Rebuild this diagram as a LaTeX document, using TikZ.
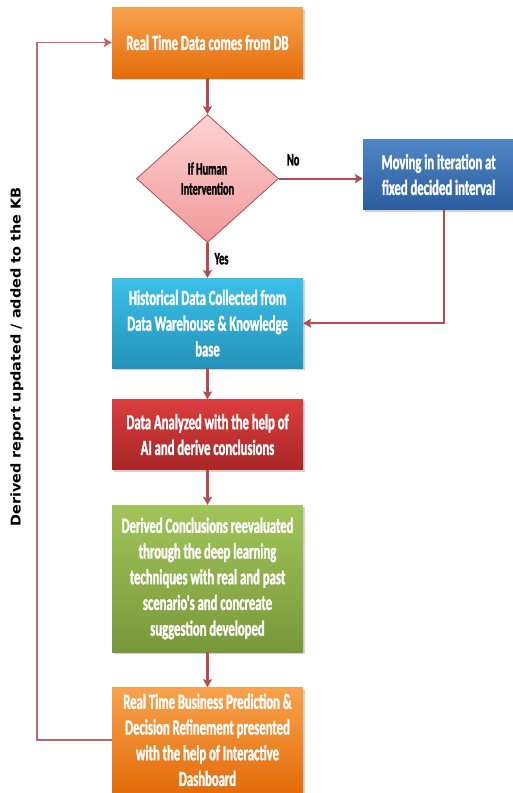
\documentclass[tikz,border=0pt]{standalone}
\usepackage{fontspec}
\newfontfamily\boxfont[FakeStretch=0.59, BoldFeatures={FakeBold=1.4}]{Carlito}
\newfontfamily\sidefont[FakeStretch=1.07]{DejaVu Sans}
\usetikzlibrary{shapes.geometric, arrows.meta, positioning, shadows}

\definecolor{flowred}{HTML}{B54A4F}
\definecolor{orangetop}{HTML}{F8A24C}
\definecolor{orangebot}{HTML}{E46C0A}
\definecolor{bluetop}{HTML}{4F86C6}
\definecolor{bluebot}{HTML}{2B5C9E}
\definecolor{cyantop}{HTML}{3CC0E8}
\definecolor{cyanbot}{HTML}{2392BA}
\definecolor{redtop}{HTML}{DC3D3D}
\definecolor{redbot}{HTML}{A82626}
\definecolor{greentop}{HTML}{A2C55A}
\definecolor{greenbot}{HTML}{76983A}
\definecolor{pinktop}{HTML}{FCD3D3}
\definecolor{pinkbot}{HTML}{F29898}

\begin{document}
\begin{tikzpicture}[
    x=1pt, y=1pt,
    % Node styles
    stage/.style={
        rectangle, inner sep=2pt, text=white,
        minimum width=191pt, align=center,
        font=\boxfont\bfseries\fontsize{21.5}{25.7}\selectfont,
        drop shadow={opacity=0.35, shadow xshift=1.5pt, shadow yshift=-2pt}
    },
    orangebox/.style={stage, top color=orangetop, bottom color=orangebot},
    bluebox/.style={stage, top color=bluetop, bottom color=bluebot, minimum width=151pt},
    cyanbox/.style={stage, top color=cyantop, bottom color=cyanbot},
    redbox/.style={stage, top color=redtop, bottom color=redbot},
    greenbox/.style={stage, top color=greentop, bottom color=greenbot},
    decision/.style={
        diamond, inner sep=0pt, draw=flowred, line width=0.8pt,
        top color=pinktop, bottom color=pinkbot,
        minimum width=142pt, minimum height=128pt, align=center,
        font=\boxfont\bfseries\fontsize{17.5}{20}\selectfont
    },
    yesno/.style={font=\boxfont\bfseries\fontsize{17.5}{17}\selectfont, text=black, inner sep=0pt},
    sidelabel/.style={font=\sidefont\bfseries\fontsize{13.5}{15}\selectfont, inner sep=0pt},
    arrow/.style={-{Stealth[length=8pt, width=9pt, inset=1.5pt]}, line width=2.1pt, flowred},
    looparrow/.style={-{Stealth[length=8pt, width=9pt, inset=1.5pt]}, line width=1.6pt, flowred!85},
    node distance=35pt
]
\useasboundingbox (0,0) rectangle (512,-793);

% ============================================================
% Main column, top to bottom
% ============================================================
\node[orangebox, minimum height=71pt] (rtdata) at (207.5,-42.5) {Real Time Data comes from DB};

\node[decision, below=36pt of rtdata] (human) {If Human\\Intervention};

\node[bluebox, minimum height=70pt, right=84pt of human, yshift=4pt] (iterate)
    {Moving in iteration at\\fixed decided interval};

\node[cyanbox, minimum height=90pt, below=35pt of human] (history)
    {Historical Data Collected from\\Data Warehouse \& Knowledge\\base};

\node[redbox, minimum height=70pt, below=31pt of history] (analyze)
    {Data Analyzed with the help of\\AI and derive conclusions};

\node[greenbox, minimum height=147pt, below=35pt of analyze] (reeval)
    {Derived Conclusions reevaluated\\through the deep learning\\techniques with real and past\\scenario's and concreate\\suggestion developed};

\node[orangebox, minimum height=105pt, below=35pt of reeval] (predict)
    {Real Time Business Prediction \&\\Decision Refinement presented\\with the help of Interactive\\Dashboard};

% Side label of the feedback loop
\node[sidelabel, rotate=90] (kbnote) at (17,-357) {Derived report updated / added to the KB};

% ============================================================
% Arrows
% ============================================================
\draw[arrow] (rtdata) -- (human);
\draw[arrow] (human.east) -- node[yesno, pos=0.17, above=12pt] (nolabel) {No} (human.east -| iterate.west);
\draw[arrow] (human) -- node[yesno, pos=0.45, right=6pt] (yeslabel) {Yes} (history);
\draw[arrow] ([xshift=5pt]iterate.south) |- (history.east);
\draw[arrow] (history) -- (analyze);
\draw[arrow] (analyze) -- (reeval);
\draw[arrow] (reeval) -- (predict);

% Feedback loop back to the data source
\draw[looparrow] (predict.west) -| ([xshift=-75pt]rtdata.west) -- (rtdata.west);

\end{tikzpicture}
\end{document}
